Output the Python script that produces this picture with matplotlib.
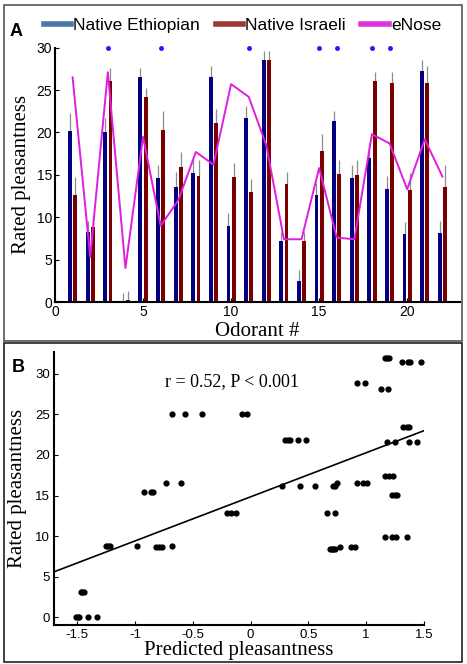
import numpy as np
import matplotlib
matplotlib.use('Agg')
import matplotlib.pyplot as plt
from matplotlib.lines import Line2D
from matplotlib.patches import Rectangle

# panel A data
odorants = np.arange(1, 23)
ethiopian = [20.2, 8.2, 20.0, 0.1, 26.5, 14.6, 13.6, 15.2, 26.6, 9.0, 21.7,
             28.6, 7.2, 2.5, 12.6, 21.4, 14.6, 17.0, 13.3, 8.0, 27.3, 8.1]
ethiopian_err = [2.1, 1.3, 1.7, 1.0, 1.1, 1.6, 1.7, 1.7, 1.2, 1.5, 1.4,
                 1.0, 1.1, 1.3, 1.4, 1.1, 1.6, 1.7, 1.6, 1.4, 1.2, 1.5]
israeli = [12.6, 8.8, 26.1, 0.2, 24.2, 20.3, 15.9, 14.9, 21.1, 14.8, 13.0,
           28.5, 13.9, 7.2, 17.8, 15.1, 15.0, 26.1, 25.8, 13.2, 25.8, 13.6]
israeli_err = [2.1, 1.5, 1.5, 1.1, 1.1, 2.2, 1.8, 1.9, 1.7, 1.6, 1.5,
               1.1, 1.4, 1.1, 2.0, 1.7, 1.7, 1.0, 1.3, 2.0, 2.0, 2.6]
enose = [26.5, 5.3, 27.1, 4.0, 19.5, 9.0, 12.0, 17.7, 16.2, 25.7, 24.2,
         18.5, 7.4, 7.4, 15.8, 7.6, 7.4, 19.8, 18.7, 13.3, 19.2, 14.8]
signif = [3, 6, 11, 15, 16, 18, 19]

# panel B data
pred_x = [-1.51, -1.49, -1.48, -1.41, -1.33,
          -1.47, -1.46, -1.44,
          -1.25, -1.23, -1.22, -0.98, -0.82, -0.79, -0.77, -0.68,
          -0.92, -0.86, -0.84, -0.73, -0.60,
          -0.68, -0.57, -0.42, -0.07, -0.03,
          -0.20, -0.17, -0.13,
          0.30, 0.32, 0.34, 0.41, 0.48,
          0.27, 0.43, 0.56, 0.71, 0.73, 0.75, 0.92, 0.97, 1.01,
          0.66, 0.73,
          0.69, 0.70, 0.71, 0.73, 0.77, 0.87, 0.90,
          0.92, 0.99, 1.13, 1.19,
          1.16, 1.18, 1.20, 1.31, 1.36, 1.38, 1.47,
          1.32, 1.35, 1.37,
          1.18, 1.25, 1.37, 1.44,
          1.16, 1.20, 1.23,
          1.22, 1.25, 1.27,
          1.16, 1.22, 1.26, 1.35]
rated_y = [0, 0, 0, 0, 0,
           3.1, 3.1, 3.1,
           8.8, 8.8, 8.8, 8.8, 8.7, 8.7, 8.7, 8.8,
           15.4, 15.4, 15.4, 16.6, 16.6,
           25.1, 25.1, 25.1, 25.1, 25.1,
           12.9, 12.9, 12.9,
           21.8, 21.8, 21.8, 21.8, 21.8,
           16.2, 16.2, 16.2, 16.2, 16.2, 16.6, 16.6, 16.6, 16.6,
           12.9, 12.9,
           8.4, 8.4, 8.4, 8.4, 8.6, 8.6, 8.6,
           28.9, 28.9, 28.1, 28.1,
           31.9, 31.9, 31.9, 31.5, 31.5, 31.5, 31.5,
           23.5, 23.5, 23.5,
           21.6, 21.6, 21.6, 21.6,
           17.4, 17.4, 17.4,
           15.1, 15.1, 15.1,
           9.9, 9.9, 9.9, 9.9]
fit_slope = 5.44
fit_icept = 14.84

serif = 'Liberation Serif'
sans = 'Liberation Sans'

fig = plt.figure(figsize=(4.67, 6.64), dpi=100)

# panel frames
fig.patches.append(Rectangle((4/467, 1-341/664), 458/467, 336/664, transform=fig.transFigure,
                             fill=False, edgecolor='#555555', lw=1.2))
fig.patches.append(Rectangle((4/467, 1-662/664), 458/467, 319/664, transform=fig.transFigure,
                             fill=False, edgecolor='#222222', lw=1.2))

# ---- panel A
ax = fig.add_axes([55/467, 1-302/664, 405/467, 254.3/664])
w = 0.22
xb = odorants - 0.15
xr = odorants + 0.15
ax.vlines(xb, ethiopian, np.array(ethiopian) + np.array(ethiopian_err), color='#8c8c8c', lw=0.9, zorder=1)
ax.vlines(xr, israeli, np.array(israeli) + np.array(israeli_err), color='#8c8c8c', lw=0.9, zorder=1)
ax.bar(xb, ethiopian, width=w, color='#000080', zorder=2)
ax.bar(xr, israeli, width=w, color='#7a0000', zorder=2)
ax.plot(odorants, enose, color='#e01ee0', lw=1.4, zorder=3)
ax.plot(signif, [30]*len(signif), 'o', color='#1a1aff', ms=2.5, clip_on=False, zorder=4)
ax.set_xlim(0, 23)
ax.set_ylim(0, 30)
ax.set_xticks([0, 5, 10, 15, 20])
ax.set_yticks([0, 5, 10, 15, 20, 25, 30])
for s in ['top', 'right']:
    ax.spines[s].set_visible(False)
for s in ['left', 'bottom']:
    ax.spines[s].set_linewidth(1.5)
ax.tick_params(direction='in', length=3, labelsize=10, pad=2)
for t in ax.get_xticklabels() + ax.get_yticklabels():
    t.set_fontfamily(sans)
ax.set_xlabel('Odorant #', fontfamily=serif, fontsize=15, labelpad=2)
ax.set_ylabel('Rated pleasantness', fontfamily=serif, fontsize=15, labelpad=4)

handles = [Line2D([], [], color='#4a78a8', lw=4),
           Line2D([], [], color='#9b3a35', lw=4),
           Line2D([], [], color='#dd33dd', lw=4)]
fig.legend(handles, ['Native Ethiopian', 'Native Israeli', 'eNose'], loc='center',
           bbox_to_anchor=(0.519, 1-25/664), ncol=3, frameon=False,
           prop={'family': sans, 'size': 12.5}, handlelength=1.6, handletextpad=0.1,
           columnspacing=0.9)
fig.text(10/467, 1-31/664, 'A', fontfamily=sans, fontweight='bold', fontsize=13, va='center')

# ---- panel B
bx = fig.add_axes([54/467, 1-625.3/664, 370/467, 273.3/664])
bx.scatter(pred_x, rated_y, s=12, color='black', zorder=3)
xx = np.array([-1.70, 1.5])
bx.plot(xx, fit_slope * xx + fit_icept, color='black', lw=1.2)
bx.set_xlim(-1.70, 1.5)
bx.set_ylim(-1, 32.7)
bx.set_xticks([-1.5, -1, -0.5, 0, 0.5, 1, 1.5])
bx.set_xticklabels(['-1.5', '-1', '-0.5', '0', '0.5', '1', '1.5'])
bx.set_yticks([0, 5, 10, 15, 20, 25, 30])
for s in ['top', 'right']:
    bx.spines[s].set_visible(False)
for s in ['left', 'bottom']:
    bx.spines[s].set_linewidth(1.5)
bx.tick_params(direction='in', length=3, labelsize=9.5, pad=3)
for t in bx.get_xticklabels() + bx.get_yticklabels():
    t.set_fontfamily(sans)
bx.set_xlabel('Predicted pleasantness', fontfamily=serif, fontsize=15, labelpad=0)
bx.set_ylabel('Rated pleasantness', fontfamily=serif, fontsize=15, labelpad=6)
bx.text(-0.16, 29.0, 'r = 0.52, P < 0.001', fontfamily=serif, fontsize=13, ha='center', va='center')
fig.text(12/467, 1-367/664, 'B', fontfamily=sans, fontweight='bold', fontsize=13, va='center')

fig.savefig('out.png', dpi=100)
